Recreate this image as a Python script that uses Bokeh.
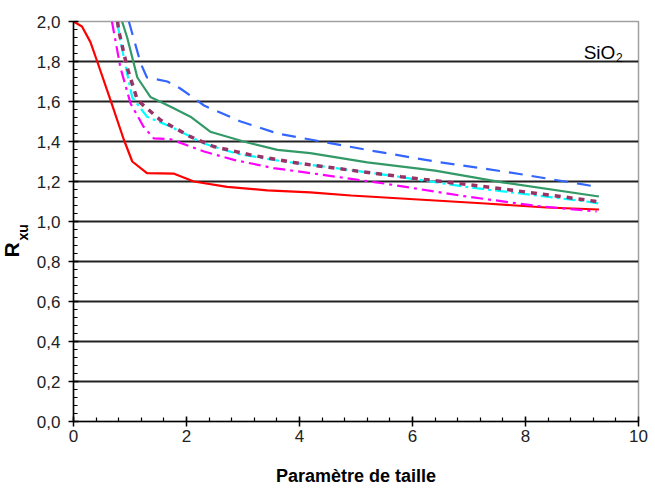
from bokeh.plotting import figure
from bokeh.models import Label, FixedTicker, CustomJSTickFormatter, Range1d, Title
from bokeh.embed import file_html
from bokeh.resources import INLINE

# ---- data ----
red_x = [0, 0.15, 0.30, 0.42, 0.655, 0.89, 1.04, 1.30, 1.78, 2.13, 2.72, 3.43, 4.19, 4.91, 6.40, 7.29, 8.37, 9.3]
red_y = [2.0, 1.975, 1.897, 1.80, 1.607, 1.41, 1.30, 1.242, 1.239, 1.20, 1.173, 1.156, 1.146, 1.13, 1.105, 1.09, 1.07, 1.06]

blue_x = [0.98, 1.19, 1.30, 1.66, 1.89, 2.31, 2.96, 3.61, 4.19, 5.20, 6.40, 7.71, 9.26]
blue_y = [2.0, 1.79, 1.72, 1.70, 1.665, 1.58, 1.50, 1.44, 1.41, 1.358, 1.30, 1.246, 1.174]

green_x = [0.86, 0.95, 1.13, 1.36, 1.72, 2.07, 2.42, 3.01, 3.61, 4.19, 5.20, 6.40, 7.59, 9.3]
green_y = [2.0, 1.92, 1.72, 1.623, 1.574, 1.524, 1.449, 1.40, 1.358, 1.342, 1.296, 1.254, 1.196, 1.125]

cyan_x = [0.77, 0.89, 1.04, 1.30, 1.72, 2.31, 2.90, 3.72, 4.19, 5.63, 7.0, 9.08, 9.3]
cyan_y = [2.0, 1.82, 1.62, 1.524, 1.474, 1.39, 1.338, 1.30, 1.284, 1.229, 1.171, 1.10, 1.09]

maroon_x = [0.78, 0.80, 0.95, 1.13, 1.54, 2.07, 2.48, 3.13, 3.90, 4.43, 5.80, 7.11, 8.49, 9.26]
maroon_y = [2.0, 1.955, 1.77, 1.607, 1.507, 1.424, 1.375, 1.333, 1.295, 1.274, 1.224, 1.18, 1.13, 1.10]

magenta_x = [0.68, 0.83, 1.01, 1.24, 1.42, 1.72, 2.31, 2.84, 3.54, 4.19, 5.50, 6.88, 8.19, 9.26]
magenta_y = [2.0, 1.77, 1.59, 1.474, 1.416, 1.411, 1.35, 1.308, 1.267, 1.242, 1.19, 1.128, 1.078, 1.05]

x_ticks = [0, 2, 4, 6, 8, 10]
y_ticks = [0.0, 0.2, 0.4, 0.6, 0.8, 1.0, 1.2, 1.4, 1.6, 1.8, 2.0]

FONT = "Liberation Sans"

p = figure(width=648, height=488, x_range=Range1d(0, 10), y_range=Range1d(0, 2),
           output_backend="svg", toolbar_location=None,
           min_border_left=73, min_border_right=10, min_border_top=21, min_border_bottom=65)
p.background_fill_color = "white"
p.border_fill_color = "white"
p.outline_line_color = "#a0a0a0"
p.outline_line_width = 1.5

# grid
p.xgrid.grid_line_color = None
p.ygrid.grid_line_color = "#222222"
p.ygrid.grid_line_width = 1.8
p.ygrid.ticker = FixedTicker(ticks=y_ticks)

# axes
p.xaxis.ticker = FixedTicker(ticks=x_ticks, minor_ticks=[round(i * 0.4, 2) for i in range(26)])
p.yaxis.ticker = FixedTicker(ticks=y_ticks, minor_ticks=[round(i * 0.04, 2) for i in range(51)])
p.xaxis.formatter = CustomJSTickFormatter(code="return tick.toFixed(0);")
p.yaxis.formatter = CustomJSTickFormatter(code="return tick.toFixed(1).replace('.', ',');")
for ax in (p.xaxis[0], p.yaxis[0]):
    ax.axis_line_color = "black"
    ax.axis_line_width = 1.5
    ax.major_tick_line_color = "black"
    ax.major_tick_line_width = 1.5
    ax.major_tick_in = 5
    ax.major_tick_out = 5
    ax.minor_tick_line_color = "black"
    ax.minor_tick_line_width = 1.2
    ax.minor_tick_in = 4
    ax.minor_tick_out = 0
    ax.major_label_text_font = FONT
    ax.major_label_text_font_size = "17px"
    ax.major_label_text_color = "#222222"
p.yaxis.major_label_standoff = 8
p.xaxis.major_label_standoff = 3

p.xaxis.axis_label = "Paramètre de taille"
p.xaxis.axis_label_text_font = FONT
p.xaxis.axis_label_text_font_style = "bold"
p.xaxis.axis_label_text_font_size = "18px"
p.xaxis.axis_label_text_color = "black"
p.xaxis.axis_label_standoff = 21

# y-axis title "R" with subscript "xu": two side titles in the left border
p.add_layout(Title(text="xu", align="left", offset=181, standoff=6,
                   text_font=FONT, text_font_style="bold", text_font_size="14px",
                   text_color="black"), "left")
p.add_layout(Title(text="R", align="left", offset=164, standoff=-26,
                   text_font=FONT, text_font_style="bold", text_font_size="21px",
                   text_color="black"), "left")

# curves
p.line(red_x, red_y, line_color="#ff0000", line_width=2.2)
p.line(blue_x, blue_y, line_color="#3366ff", line_width=2.2, line_dash="14 9")
p.line(green_x, green_y, line_color="#339966", line_width=2.2)
p.line(cyan_x, cyan_y, line_color="#00ffff", line_width=2.2, line_dash="12 4 3 4")
p.line(maroon_x, maroon_y, line_color="#993366", line_width=3.5, line_dash="6 6")
p.line(magenta_x, magenta_y, line_color="#ff00ff", line_width=2.2, line_dash="12 5 3 5")

# texts
p.add_layout(Label(x=9.03, y=1.846, text="SiO", text_font=FONT,
                   text_font_size="19px", text_color="black", text_baseline="alphabetic"))
p.add_layout(Label(x=9.6, y=1.822, text="2", text_font=FONT,
                   text_font_size="12px", text_color="black", text_baseline="alphabetic"))

open("out.html", "w").write(file_html(p, INLINE))
